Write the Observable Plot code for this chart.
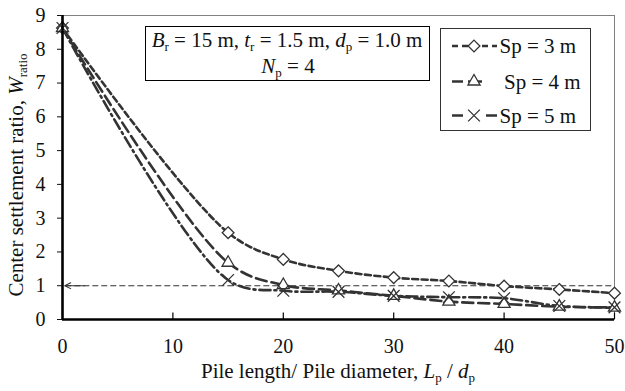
<!DOCTYPE html>
<html>
<head>
<meta charset="utf-8">
<script src="https://cdn.jsdelivr.net/npm/d3@7"></script>
<script src="https://cdn.jsdelivr.net/npm/@observablehq/plot@0.6"></script>
<style>
  html, body { margin: 0; padding: 0; background: #fff; }
  svg, svg text, svg tspan { font-family: "Liberation Serif", "Times New Roman", serif !important; }
</style>
</head>
<body>
<div id="chart"></div>
<script>
// ---- data ----
const lengths = [0, 15, 20, 25, 30, 35, 40, 45, 50];
const sp3 = [8.63, 2.57, 1.78, 1.44, 1.24, 1.14, 0.99, 0.89, 0.78];
const sp4 = [8.63, 1.68, 1.02, 0.86, 0.70, 0.53, 0.46, 0.38, 0.35];
const sp5 = [8.63, 1.17, 0.85, 0.82, 0.70, 0.66, 0.63, 0.40, 0.36];
const seriesNames = ["Sp = 3 m", "Sp = 4 m", "Sp = 5 m"];
const xTicks = [0, 10, 20, 30, 40, 50];
const yTicks = [0, 1, 2, 3, 4, 5, 6, 7, 8, 9];
const refValue = 1;

const seriesValues = [sp3, sp4, sp5];
const symbols = ["diamond2", "triangle", "times"];
const symR = [5.3, 4.5, 5.4];
const dashes = ["6,3.5", "11,5", "11,4,2,4"];
const legDashes = ["6,4", "11,5,14,20", "11,23,11"];
const ink = "#333";
const FS = 20;   // tick labels
const LFS = 21;  // other text

const rows = [];
seriesValues.forEach((vals, s) => vals.forEach((v, i) => rows.push({series: seriesNames[s], x: lengths[i], y: v})));

const marks = [
  Plot.frame({stroke: "#808080", strokeWidth: 1}),
  Plot.ruleY([refValue], {x1: 0.3, x2: 50, stroke: ink, strokeWidth: 1.1, strokeDasharray: "6,3"}),
  Plot.arrow([refValue], {x1: 2, x2: 0.2, y1: d => d, y2: d => d, stroke: ink, strokeWidth: 1.1, headLength: 14, headAngle: 52})
];
seriesNames.forEach((name, s) => {
  const data = rows.filter(r => r.series === name);
  marks.push(Plot.line(data, {x: "x", y: "y", curve: "catmull-rom", stroke: ink, strokeWidth: 2.6, strokeDasharray: dashes[s]}));
});
seriesNames.forEach((name, s) => {
  const data = rows.filter(r => r.series === name);
  marks.push(Plot.dot(data, {x: "x", y: "y", symbol: symbols[s], r: symR[s], stroke: ink, strokeWidth: 1.3, fill: s === 2 ? "none" : "white"}));
});
marks.push(
  Plot.ruleX(xTicks.slice(1), {x: d => d, y1: 0, y2: 0.19, stroke: "#000", strokeWidth: 1.2}),
  Plot.ruleX([0], {stroke: "#000", strokeWidth: 2.6}),
  Plot.ruleY([0], {stroke: "#000", strokeWidth: 2.6}),
  Plot.axisX({ticks: xTicks, tickSize: 0, tickPadding: 19.5, tickFormat: d => d, fontSize: FS, label: null}),
  Plot.axisY({ticks: yTicks, tickSize: 5, tickPadding: 12, tickFormat: d => d, fontSize: FS, label: null})
);

const plot = Plot.plot({
  width: 625,
  height: 391,
  marginLeft: 62,
  marginRight: 11,
  marginTop: 15,
  marginBottom: 72,
  x: {domain: [0, 50]},
  y: {domain: [0, 9]},
  style: {fontFamily: '"Liberation Serif", "Times New Roman", serif', fontSize: FS + "px", color: "#111", background: "white"},
  marks
});
document.getElementById("chart").appendChild(plot);

// ---- annotations ----
const svg = d3.select(plot);
function rich(g, x, y, parts, anchor, rotate) {
  const t = g.append("text").attr("x", x).attr("y", y).attr("text-anchor", anchor || "middle")
    .attr("font-size", LFS).attr("fill", "#111");
  if (rotate) t.attr("transform", `rotate(-90 ${x} ${y})`);
  parts.forEach(p => {
    const ts = t.append("tspan").text(p.t);
    if (p.i) ts.attr("font-style", "italic");
    if (p.sub) ts.attr("font-size", LFS * 0.62).attr("dy", 4);
    if (p.up) ts.attr("dy", -4);
  });
  return t;
}
const g = svg.append("g");
// axis titles
rich(g, 338, 378, [{t: "Pile length/ Pile diameter, "}, {t: "L", i: 1}, {t: "p", sub: 1}, {t: " / ", up: 1}, {t: "d", i: 1}, {t: "p", sub: 1}]);
rich(g, 23, 175, [{t: "Center settlement ratio, "}, {t: "W", i: 1}, {t: "ratio", sub: 1}], "middle", true);

// info box
g.append("rect").attr("x", 145.5).attr("y", 26.5).attr("width", 284).attr("height", 54).attr("fill", "white").attr("stroke", "#000").attr("stroke-width", 1);
rich(g, 287, 47, [{t: "B", i: 1}, {t: "r", sub: 1}, {t: " = 15 m, ", up: 1}, {t: "t", i: 1}, {t: "r", sub: 1}, {t: " = 1.5 m, ", up: 1}, {t: "d", i: 1}, {t: "p", sub: 1}, {t: " = 1.0 m", up: 1}]);
rich(g, 288, 73, [{t: "N", i: 1}, {t: "p", sub: 1}, {t: " = 4", up: 1}]);

// legend
g.append("rect").attr("x", 440.5).attr("y", 28.5).attr("width", 150).attr("height", 102).attr("fill", "white").attr("stroke", "#333").attr("stroke-width", 1);
const legY = [46, 81.5, 115.5];
const legLineEnd = [497, 483, 497];
const legTextX = [499.5, 504, 499.5];
const symPaths = [d3.symbol(d3.symbolDiamond2, 88)(), d3.symbol(d3.symbolTriangle, 64)(), d3.symbol(d3.symbolTimes, 92)()];
seriesNames.forEach((name, s) => {
  const y = legY[s];
  g.append("line").attr("x1", 452).attr("x2", legLineEnd[s]).attr("y1", y).attr("y2", y)
    .attr("stroke", ink).attr("stroke-width", 2.6).attr("stroke-dasharray", legDashes[s]);
  g.append("path").attr("d", symPaths[s]).attr("transform", `translate(474,${y})`)
    .attr("fill", s === 2 ? "none" : "white").attr("stroke", ink).attr("stroke-width", 1.3);
  g.append("text").attr("x", legTextX[s]).attr("y", y + 7).attr("text-anchor", "start")
    .attr("font-size", LFS).attr("fill", "#111").text(name);
});
</script>
</body>
</html>
